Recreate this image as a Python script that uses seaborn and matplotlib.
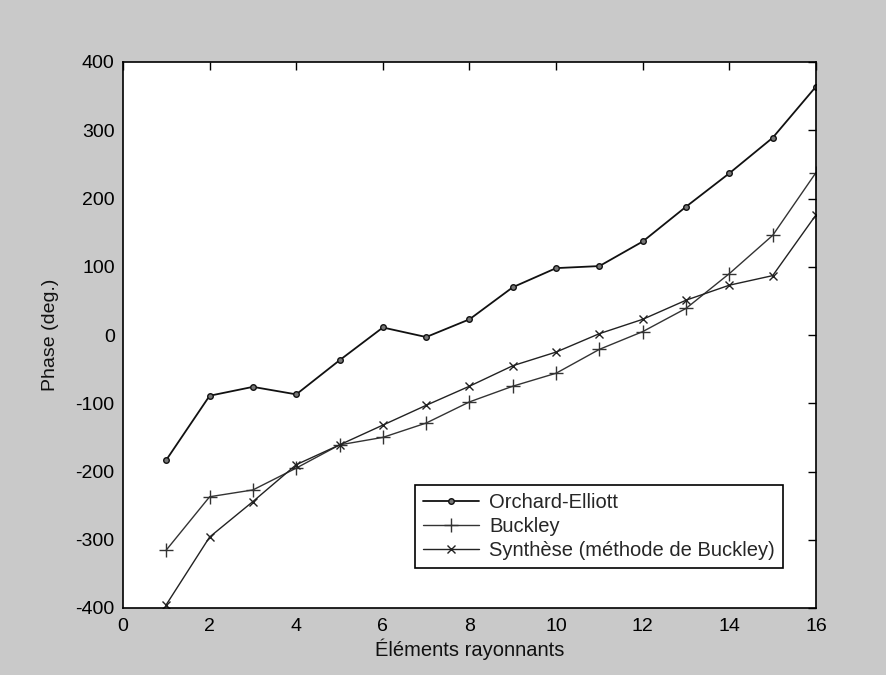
import matplotlib
matplotlib.use("Agg")
import matplotlib.pyplot as plt
import seaborn as sns
import pandas as pd

elements = list(range(1, 17))
orchard = [-183, -89, -76, -87, -37, 11, -3, 23, 70, 98, 101, 137, 188, 237, 289, 364]
buckley = [-315, -237, -227, -195, -161, -150, -129, -98, -75, -56, -21, 5, 39, 90, 146, 238]
synthese = [-395, -296, -244, -190, -161, -132, -103, -75, -45, -25, 2, 23, 51, 73, 87, 176]
labels = ["Orchard-Elliott", "Buckley", "Synthèse (méthode de Buckley)"]
xticks = list(range(0, 17, 2))
yticks = list(range(-400, 401, 100))

sns.set_theme(style="white")
plt.rcParams["font.family"] = ["Liberation Sans", "DejaVu Sans"]
plt.rcParams["axes.unicode_minus"] = False

df = pd.concat([
    pd.DataFrame({"x": elements, "y": orchard, "s": labels[0]}),
    pd.DataFrame({"x": elements, "y": buckley, "s": labels[1]}),
    pd.DataFrame({"x": elements, "y": synthese, "s": labels[2]}),
])

fig = plt.figure(figsize=(8.87, 6.75), dpi=100, facecolor="#c9c9c9")
ax = fig.add_axes([123 / 887, 1 - 608 / 675, (816 - 123) / 887, (608 - 62) / 675])
ax.set_facecolor("white")

styles = {labels[0]: dict(marker="o", ms=4, color="#111111", lw=1.3),
          labels[1]: dict(marker="+", ms=10, color="#333333", lw=1.0, mew=1.0),
          labels[2]: dict(marker="x", ms=6, color="#222222", lw=1.0, mew=1.0)}
for lab in labels:
    sub = df[df["s"] == lab]
    st = styles[lab]
    sns.lineplot(data=sub, x="x", y="y", ax=ax, label=lab, color=st["color"],
                 linewidth=st["lw"], marker=st["marker"], markersize=st["ms"],
                 markeredgewidth=st.get("mew", 1.0), markeredgecolor=st["color"],
                 markerfacecolor="#777777" if st["marker"] == "o" else st["color"])

ax.set_xlim(0, 16)
ax.set_ylim(-400, 400)
ax.set_xticks(xticks)
ax.set_yticks(yticks)
ax.tick_params(direction="in", length=6, width=1, top=True, right=True,
               labelsize=14, colors="black", pad=5)
ax.tick_params(axis="x", labeltop=False, pad=7)
ax.tick_params(axis="y", labelright=False, pad=6)
for sp in ax.spines.values():
    sp.set_visible(True)
    sp.set_color("black")
    sp.set_linewidth(1.2)
ax.set_xlabel("Éléments rayonnants", fontsize=14.5, color="#111111", labelpad=3)
ax.set_ylabel("Phase (deg.)", fontsize=14, color="#111111", labelpad=12)

leg = ax.legend(loc="lower right", frameon=True, fancybox=False, fontsize=14.5,
                handlelength=2.8, handletextpad=0.5, borderpad=0.4,
                labelspacing=0.25, edgecolor="black", framealpha=1, borderaxespad=0)
leg.get_frame().set_linewidth(1.2)
leg.set_bbox_to_anchor(((783 - 123) / (816 - 123), (608 - 568) / (608 - 62)), transform=ax.transAxes)

fig.savefig("out.png", dpi=100, facecolor=fig.get_facecolor())
